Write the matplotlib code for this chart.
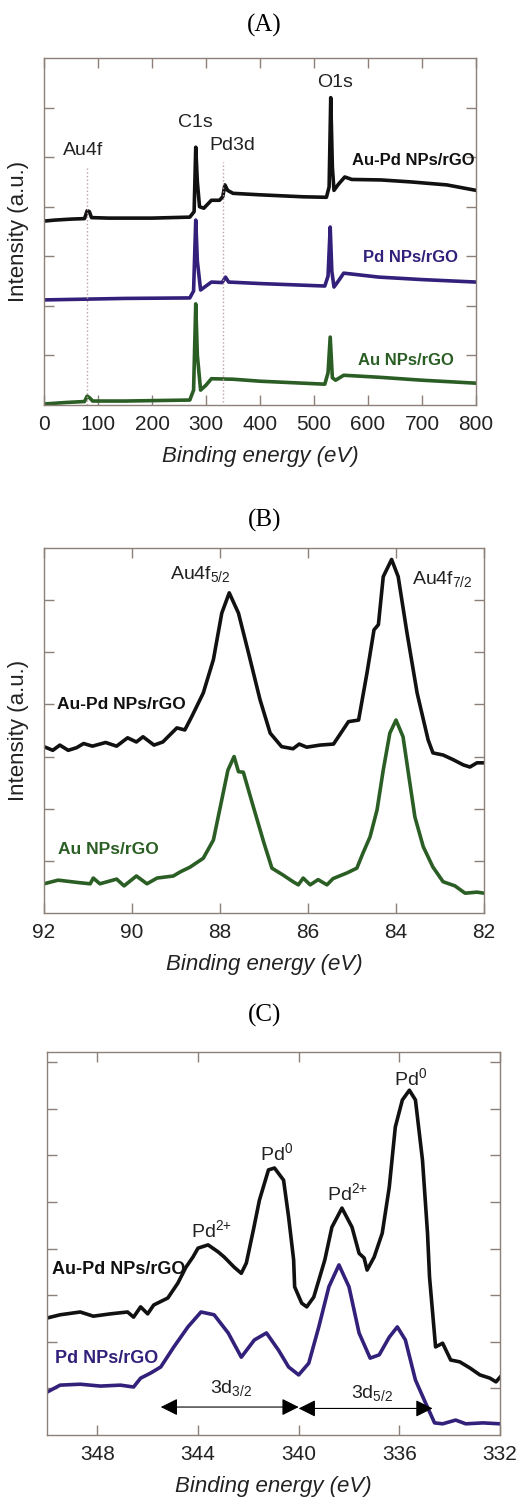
import matplotlib
matplotlib.use("Agg")
import matplotlib.pyplot as plt

plt.rcParams['font.family'] = ['Liberation Sans', 'DejaVu Sans']
plt.rcParams['mathtext.fontset'] = 'custom'
plt.rcParams['mathtext.rm'] = 'Liberation Sans'
plt.rcParams['mathtext.it'] = 'Liberation Sans:italic'
plt.rcParams['mathtext.bf'] = 'Liberation Sans:bold'

# ---- panel A: survey spectra ----
a_x_aupd = [0, 20, 50, 75, 80, 84, 88, 120, 200, 270, 278, 281, 284, 288, 296, 310, 325, 331, 335, 340, 350,
            400, 480, 523, 528, 531, 534, 537, 545, 557, 570, 624, 680, 746, 800]
a_y_aupd = [3.71, 3.73, 3.75, 3.76, 3.92, 3.9, 3.78, 3.77, 3.77, 3.79, 3.9, 5.2, 4.5, 4.0, 3.97, 4.13, 4.13, 4.2,
            4.44, 4.33, 4.27, 4.24, 4.2, 4.19, 4.4, 6.2, 4.8, 4.33, 4.45, 4.6, 4.55, 4.54, 4.5, 4.44, 4.33]
a_x_pd = [0, 50, 150, 270, 277, 281, 284, 290, 300, 310, 330, 336, 342, 400, 520, 526, 530, 533, 537, 545, 555,
          620, 700, 800]
a_y_pd = [2.12, 2.13, 2.15, 2.16, 2.3, 3.73, 2.9, 2.32, 2.4, 2.48, 2.47, 2.58, 2.48, 2.45, 2.4, 2.6, 3.59, 2.7,
          2.38, 2.5, 2.66, 2.58, 2.53, 2.48]
a_x_au = [0, 40, 75, 80, 85, 90, 150, 270, 277, 281, 284, 290, 300, 310, 350, 400, 520, 526, 530, 534, 540,
          555, 620, 700, 800]
a_y_au = [0.02, 0.05, 0.07, 0.18, 0.14, 0.08, 0.08, 0.1, 0.3, 2.04, 1.0, 0.3, 0.4, 0.53, 0.52, 0.48, 0.42,
          0.65, 1.37, 0.55, 0.5, 0.6, 0.56, 0.5, 0.44]
a_ticks = [0, 100, 200, 300, 400, 500, 600, 700, 800]
a_marks = [80, 331]

# ---- panel B: Au 4f ----
b_x_aupd = [92.0, 91.8, 91.64, 91.45, 91.26, 91.1, 90.9, 90.6, 90.35, 90.1, 89.9, 89.75, 89.5, 89.3, 88.98,
            88.8, 88.64, 88.38, 88.15, 87.96, 87.79, 87.58, 87.35, 87.09, 86.86, 86.6, 86.34, 86.2, 86.03,
            85.73, 85.42, 85.08, 84.85, 84.66, 84.5, 84.4, 84.29, 84.1, 83.95, 83.75, 83.52, 83.27, 83.16,
            82.93, 82.7, 82.47, 82.32, 82.16, 82.0]
b_y_aupd = [3.19, 3.12, 3.22, 3.12, 3.17, 3.25, 3.2, 3.27, 3.2, 3.36, 3.28, 3.38, 3.22, 3.28, 3.55, 3.51, 3.77,
            4.22, 4.86, 5.75, 6.14, 5.75, 4.98, 4.09, 3.45, 3.19, 3.15, 3.24, 3.18, 3.22, 3.24, 3.67, 3.7,
            4.6, 5.43, 5.53, 6.45, 6.78, 6.45, 5.37, 4.22, 3.32, 3.07, 3.03, 2.94, 2.84, 2.8, 2.88, 2.88]
b_x_au = [92.0, 91.68, 91.18, 90.95, 90.88, 90.73, 90.35, 90.18, 89.9, 89.66, 89.43, 89.06, 88.9, 88.68, 88.38,
          88.15, 87.96, 87.82, 87.68, 87.58, 87.47, 87.24, 87.0, 86.82, 86.57, 86.34, 86.22, 86.11, 85.95,
          85.77, 85.57, 85.43, 85.11, 84.89, 84.75, 84.59, 84.43, 84.29, 84.14, 84.0, 83.84, 83.72, 83.57,
          83.38, 83.16, 82.93, 82.66, 82.43, 82.16, 82.0]
b_y_au = [0.56, 0.63, 0.58, 0.56, 0.67, 0.56, 0.65, 0.52, 0.71, 0.56, 0.67, 0.71, 0.79, 0.88, 1.05, 1.4, 2.17,
          2.74, 3.0, 2.71, 2.7, 2.03, 1.34, 0.86, 0.73, 0.6, 0.54, 0.67, 0.54, 0.64, 0.54, 0.66, 0.77, 0.86,
          1.15, 1.46, 1.98, 2.74, 3.45, 3.7, 3.38, 2.69, 1.84, 1.27, 0.88, 0.6, 0.52, 0.38, 0.4, 0.38]
b_ticks = [92, 90, 88, 86, 84, 82]

# ---- panel C: Pd 3d ----
c_x_aupd = [350.0, 349.48, 348.68, 348.16, 347.48, 346.8, 346.56, 346.28, 346.0, 345.76, 345.2, 344.8, 344.48,
            344.2, 344.0, 343.6, 343.2, 342.96, 342.56, 342.28, 342.08, 341.8, 341.56, 341.2, 340.96, 340.6,
            340.4, 340.2, 340.16, 339.88, 339.68, 339.4, 339.08, 338.96, 338.68, 338.28, 337.88, 337.6, 337.4,
            337.28, 337.0, 336.68, 336.4, 336.16, 335.88, 335.6, 335.36, 335.08, 334.88, 334.8, 334.56, 334.28,
            333.96, 333.6, 333.2, 332.8, 332.4, 332.16, 332.0]
c_y_aupd = [2.51, 2.58, 2.64, 2.55, 2.6, 2.64, 2.53, 2.75, 2.6, 2.79, 2.94, 3.26, 3.6, 3.82, 4.01, 4.08, 3.93,
            3.82, 3.6, 3.47, 3.69, 4.4, 5.04, 5.69, 5.73, 5.47, 4.68, 3.76, 3.18, 2.83, 2.75, 2.96, 3.54, 3.76,
            4.46, 4.87, 4.46, 3.9, 3.8, 3.54, 3.82, 4.33, 5.32, 6.61, 7.19, 7.4, 7.19, 5.9, 4.33, 3.39, 1.89,
            1.97, 1.61, 1.57, 1.44, 1.29, 1.22, 1.14, 1.24]
c_x_pd = [350.0, 349.48, 348.68, 347.88, 347.08, 346.56, 346.28, 345.88, 345.48, 344.96, 344.4, 343.88, 343.36,
          342.8, 342.28, 341.76, 341.28, 340.8, 340.4, 340.0, 339.6, 339.2, 338.8, 338.4, 338.0, 337.6, 337.16,
          336.8, 336.4, 336.08, 335.76, 335.36, 334.96, 334.6, 334.28, 333.76, 333.36, 332.68, 332.0]
c_y_pd = [0.92, 1.07, 1.09, 1.05, 1.07, 1.03, 1.22, 1.33, 1.46, 1.89, 2.32, 2.64, 2.58, 2.19, 1.67, 2.04, 2.19,
          1.82, 1.46, 1.29, 1.54, 2.32, 3.18, 3.65, 3.18, 2.19, 1.65, 1.72, 2.1, 2.32, 2.04, 1.18, 0.69, 0.26,
          0.24, 0.32, 0.24, 0.26, 0.24]
c_ticks = [348, 344, 340, 336, 332]

BLACK = '#111111'
PURPLE = '#33207a'
GREEN = '#2b5e24'
SPINE = '#8c8078'
TXT = '#222222'
LW = 2.6

fig = plt.figure(figsize=(5.29, 15.09), dpi=100)
W, H = 529, 1509


def make_ax(l, r, t, b):
    ax = fig.add_axes([l / W, 1 - b / H, (r - l) / W, (b - t) / H])
    for s in ax.spines.values():
        s.set_color(SPINE)
        s.set_linewidth(1.0)
    ax.tick_params(direction='in', length=7, width=1.0, color=SPINE, top=True, right=True,
                   labelsize=15, labelcolor=TXT, pad=7)
    return ax


# panel A
fig.text(0.5, 1 - 25 / H, '(A)', ha='center', va='center', family='Liberation Serif', fontsize=18)
ax = make_ax(44, 476, 58, 405)
ax.plot(a_x_aupd, a_y_aupd, color=BLACK, lw=LW)
ax.plot(a_x_pd, a_y_pd, color=PURPLE, lw=LW)
ax.plot(a_x_au, a_y_au, color=GREEN, lw=LW)
ax.vlines(a_marks[0], 0, 4.8, colors='#c0a0a8', linestyles=':', lw=1)
ax.vlines(a_marks[1], 0.06, 4.9, colors='#c0a0a8', linestyles=':', lw=1)
ax.set_xlim(0, 800)
ax.set_ylim(0, 7)
ax.set_xticks(a_ticks)
ax.set_yticks(range(1, 7))
ax.set_yticklabels([])
ax.text(72, 5.14, 'Au4f', ha='center', va='center', fontsize=14, color=TXT)
ax.text(280, 5.7, 'C1s', ha='center', va='center', fontsize=14, color=TXT)
ax.text(348, 5.24, 'Pd3d', ha='center', va='center', fontsize=14, color=TXT)
ax.text(539, 6.5, 'O1s', ha='center', va='center', fontsize=14, color=TXT)
ax.text(683, 4.94, 'Au-Pd NPs/rGO', ha='center', va='center', fontsize=12, fontweight='bold', color=BLACK)
ax.text(678, 2.98, 'Pd NPs/rGO', ha='center', va='center', fontsize=12, fontweight='bold', color=PURPLE)
ax.text(670, 0.9, 'Au NPs/rGO', ha='center', va='center', fontsize=12, fontweight='bold', color=GREEN)
ax.set_xlabel('Binding energy (eV)', fontsize=16, style='italic', color=TXT, labelpad=9)
ax.set_ylabel('Intensity (a.u.)', fontsize=16, color=TXT, labelpad=4)

# panel B
fig.text(0.5, 1 - 520 / H, '(B)', ha='center', va='center', family='Liberation Serif', fontsize=18)
ax = make_ax(44, 484, 548, 913)
ax.plot(b_x_aupd, b_y_aupd, color=BLACK, lw=LW)
ax.plot(b_x_au, b_y_au, color=GREEN, lw=LW)
ax.set_xlim(92, 82)
ax.set_ylim(0, 7)
ax.set_xticks(b_ticks)
ax.set_yticks(range(1, 7))
ax.set_yticklabels([])
ax.text(88.45, 6.5, 'Au4f$_{5/2}$', ha='center', va='center', fontsize=14, color=TXT)
ax.text(82.95, 6.4, 'Au4f$_{7/2}$', ha='center', va='center', fontsize=14, color=TXT)
ax.text(91.7, 4.0, 'Au-Pd NPs/rGO', ha='left', va='center', fontsize=12.5, fontweight='bold', color=BLACK)
ax.text(91.68, 1.21, 'Au NPs/rGO', ha='left', va='center', fontsize=12.5, fontweight='bold', color=GREEN)
ax.set_xlabel('Binding energy (eV)', fontsize=16, style='italic', color=TXT, labelpad=9)
ax.set_ylabel('Intensity (a.u.)', fontsize=16, color=TXT, labelpad=4)

# panel C
fig.text(0.5, 1 - 1015 / H, '(C)', ha='center', va='center', family='Liberation Serif', fontsize=18)
ax = make_ax(47, 500, 1052, 1435)
ax.plot(c_x_aupd, c_y_aupd, color=BLACK, lw=LW)
ax.plot(c_x_pd, c_y_pd, color=PURPLE, lw=LW)
ax.set_xlim(350, 332)
ax.set_ylim(0, 8.22)
ax.set_xticks(c_ticks)
ax.set_yticks(range(1, 9))
ax.set_yticklabels([])
ax.text(343.48, 4.4, 'Pd$^{2{+}}$', ha='center', va='center', fontsize=14, color=TXT)
ax.text(340.88, 6.05, 'Pd$^{0}$', ha='center', va='center', fontsize=14, color=TXT)
ax.text(338.08, 5.2, 'Pd$^{2{+}}$', ha='center', va='center', fontsize=14, color=TXT)
ax.text(335.56, 7.66, 'Pd$^{0}$', ha='center', va='center', fontsize=14, color=TXT)
ax.text(349.8, 3.56, 'Au-Pd NPs/rGO', ha='left', va='center', fontsize=13, fontweight='bold', color=BLACK)
ax.text(349.68, 1.65, 'Pd NPs/rGO', ha='left', va='center', fontsize=13, fontweight='bold', color=PURPLE)
arrow = dict(arrowstyle='<|-|>', color='black', lw=0.8, mutation_scale=26, shrinkA=0, shrinkB=0)
ax.annotate('', xy=(345.48, 0.6), xytext=(340.0, 0.6), arrowprops=arrow)
ax.annotate('', xy=(340.0, 0.57), xytext=(334.68, 0.57), arrowprops=arrow)
ax.text(342.68, 1.0, '3d$_{3/2}$', ha='center', va='center', fontsize=14, color=TXT)
ax.text(337.08, 0.9, '3d$_{5/2}$', ha='center', va='center', fontsize=14, color=TXT)
ax.set_xlabel('Binding energy (eV)', fontsize=16, style='italic', color=TXT, labelpad=9)

fig.savefig('out.png', dpi=100, facecolor='white')
